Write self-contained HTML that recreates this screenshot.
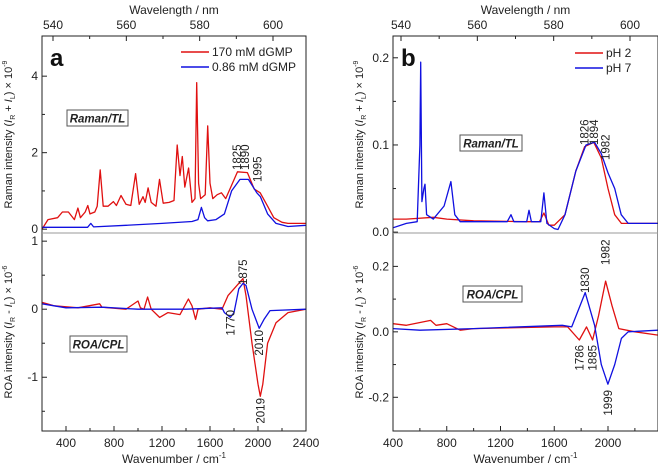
<!DOCTYPE html>
<html><head><meta charset="utf-8"><style>
body{margin:0;background:#fff}
svg{display:block;font-family:"Liberation Sans",Arial,sans-serif}
</style></head><body>
<svg id="fig" width="658" height="468" viewBox="0 0 658 468" xmlns="http://www.w3.org/2000/svg"></svg>
<script>
// ---- data arrays (x = wavenumber cm^-1, y = value) ----
const aRamanRedX=[200,250,330,370,420,470,499,520,560,582,600,640,660,685,710,750,795,820,858,900,940,980,1010,1042,1060,1084,1110,1150,1179,1210,1260,1300,1327,1350,1369,1390,1422,1450,1475,1489,1505,1522,1560,1581,1600,1623,1660,1695,1731,1780,1829,1912,1968,2018,2080,2132,2200,2250,2400];
const aRamanRedY=[0,0.25,0.3,0.45,0.45,0.25,0.55,0.3,0.45,0.62,0.4,0.45,0.6,1.55,0.6,0.6,0.72,0.62,0.88,0.65,0.62,1.45,0.65,0.85,0.7,1.08,0.7,0.6,1.3,0.68,0.7,0.75,2.2,1.4,1.9,1.1,1.6,0.7,0.8,3.83,1.2,0.8,0.9,2.7,1.2,0.8,0.9,0.95,0.8,1.15,1.5,1.48,1.05,0.95,0.6,0.3,0.18,0.15,0.15];
const aRamanBlueX=[200,500,580,607,630,900,1200,1450,1500,1528,1555,1580,1650,1720,1780,1850,1920,1990,2020,2080,2150,2250,2400];
const aRamanBlueY=[0.05,0.05,0.05,0.15,0.06,0.1,0.15,0.2,0.25,0.57,0.3,0.22,0.25,0.4,1.0,1.3,1.3,0.95,0.85,0.4,0.15,0.07,0.1];
const aRoaRedX=[200,300,500,680,700,900,1000,1020,1050,1080,1110,1180,1250,1350,1420,1450,1480,1500,1600,1700,1750,1800,1875,1900,1950,2000,2019,2040,2080,2150,2250,2400];
const aRoaRedY=[0.1,0.05,0.02,0.08,0.03,0.0,0.12,0.02,0.0,0.18,0.0,-0.12,-0.05,-0.08,0.15,0.05,-0.15,0.0,0.02,0.0,0.2,0.3,0.45,0.2,-0.5,-1.1,-1.28,-1.1,-0.5,-0.2,-0.05,0];
const aRoaBlueX=[200,400,700,1000,1400,1700,1720,1770,1800,1840,1875,1900,1950,2010,2050,2100,2400];
const aRoaBlueY=[0.08,0.02,0.03,0.0,0.0,0.02,-0.05,-0.12,-0.05,0.3,0.38,0.35,0.0,-0.28,-0.15,-0.02,0];
const bRamanRedX=[400,500,700,800,1000,1400,1490,1523,1560,1600,1680,1760,1826,1894,1950,2000,2050,2100,2372];
const bRamanRedY=[0.015,0.015,0.017,0.015,0.013,0.012,0.012,0.022,0.008,0.008,0.02,0.07,0.098,0.103,0.085,0.05,0.02,0.01,0.01];
const bRamanBlueX=[400,500,580,600,606,615,630,638,650,700,780,831,860,900,1250,1278,1300,1395,1412,1430,1500,1523,1545,1600,1628,1680,1760,1836,1900,1950,2000,2050,2098,2150,2372];
const bRamanBlueY=[0.005,0.01,0.012,0.1,0.195,0.035,0.05,0.055,0.02,0.015,0.03,0.058,0.02,0.012,0.012,0.02,0.012,0.012,0.025,0.012,0.012,0.045,0.01,0.004,0.003,0.02,0.07,0.1,0.103,0.09,0.068,0.05,0.02,0.01,0.01];
const bRoaRedX=[400,500,680,720,800,900,1000,1600,1700,1786,1840,1885,1930,1982,2030,2080,2200,2372];
const bRoaRedY=[0.025,0.02,0.035,0.02,0.025,0.005,0.01,0.015,0.015,-0.025,0.015,-0.025,0.05,0.155,0.08,0.01,0.0,-0.01];
const bRoaBlueX=[400,600,1000,1660,1730,1830,1900,1950,1999,2050,2100,2150,2372];
const bRoaBlueY=[0.01,0.005,0.01,0.02,0.015,0.12,0.02,-0.1,-0.16,-0.1,-0.02,0,0.005];
const aBottomTicks=[400,800,1200,1600,2000,2400];
const bBottomTicks=[400,800,1200,1600,2000];
const aRamanTicks=[0,2,4];const aRoaTicks=[1,0,-1];
const bRamanTicks=[0.0,0.1,0.2];const bRoaTicks=[0.2,0.0,-0.2];
const nmTicks=[540,560,580,600];

const svg=document.getElementById('fig');
const NS='http://www.w3.org/2000/svg';
function mk(tag,attrs,parent){const e=document.createElementNS(NS,tag);for(const k in attrs)e.setAttribute(k,attrs[k]);(parent||svg).appendChild(e);return e;}
function txt(s,x,y,size,extra){const t=mk('text',Object.assign({x:x,y:y,'font-size':size,fill:'#222'},extra||{}));t.textContent=s;return t;}

function panel(p){
  const sx=v=>p.x0+(v-p.xmin)*(p.x1-p.x0)/(p.xmax-p.xmin);
  const syT=v=>p.yT1-(v-p.tmin)*(p.yT1-p.yT0)/(p.tmax-p.tmin);
  const syB=v=>p.yB1-(v-p.bmin)*(p.yB1-p.yB0)/(p.bmax-p.bmin);
  const snm=nm=>p.nm540+(nm-540)*(p.nm600-p.nm540)/60;
  const cT=mk('clipPath',{id:p.id+'cT'});mk('rect',{x:p.x0,y:p.yT0,width:p.x1-p.x0,height:p.yT1-p.yT0},cT);
  const cB=mk('clipPath',{id:p.id+'cB'});mk('rect',{x:p.x0,y:p.yB0,width:p.x1-p.x0,height:p.yB1-p.yB0},cB);
  const gT=mk('g',{'clip-path':'url(#'+p.id+'cT)'});const gB=mk('g',{'clip-path':'url(#'+p.id+'cB)'});
  [[p.ramR,'#e01010',syT,gT,'raman-red'],[p.ramB,'#1010e0',syT,gT,'raman-blue'],[p.roaR,'#e01010',syB,gB,'roa-red'],[p.roaB,'#1010e0',syB,gB,'roa-blue']].forEach(([d,c,sy,gr,n])=>{
    const pts=d[0].map((x,i)=>sx(x).toFixed(1)+','+sy(d[1][i]).toFixed(1)).join(' ');
    const l=mk('polyline',{points:pts,fill:'none',stroke:c,'stroke-width':1.3,'stroke-linejoin':'round'},gr);
    
    
  });
  const fr=mk('rect',{x:p.x0,y:p.yT0,width:p.x1-p.x0,height:p.yB1-p.yT0,fill:'none',stroke:'#222','stroke-width':1});
  
  const dv=mk('line',{x1:p.x0,x2:p.x1,y1:p.yT1,y2:p.yT1,stroke:'#999','stroke-width':1});
  
  for(let v=p.xmin;v<=p.xmax+1;v+=200){const X=sx(v);const major=p.btick.includes(v);
    mk('line',{x1:X,x2:X,y1:p.yB1,y2:p.yB1-(major?5:3),stroke:'#222'});}
  p.btick.forEach(v=>{const t=txt(String(v),sx(v),p.yB1+16,12,{'text-anchor':'middle'});});
  const xt=txt('',(p.x0+p.x1)/2,p.yB1+32,12,{'text-anchor':'middle'});
  xt.innerHTML='Wavenumber / cm<tspan dy="-5" font-size="8">-1</tspan>';
  
  for(let nm=530;nm<=615;nm+=10){const X=snm(nm);if(X<p.x0||X>p.x1)continue;
    mk('line',{x1:X,x2:X,y1:p.yT0,y2:p.yT0+(nm%20==0?5:3),stroke:'#222'});}
  nmTicks.forEach(nm=>{const t=txt(String(nm),snm(nm),p.yT0-7,12,{'text-anchor':'middle'});});
  const tt=txt('Wavelength / nm',(p.x0+p.x1)/2,p.yT0-22,12,{'text-anchor':'middle'});
  
  p.ttick.forEach(v=>{const Y=syT(v);mk('line',{x1:p.x0,x2:p.x0+5,y1:Y,y2:Y,stroke:'#222'});
    const t=txt(p.fmt(v),p.x0-4,Y+4,12,{'text-anchor':'end'});});
  p.ttickMinor.forEach(v=>{const Y=syT(v);mk('line',{x1:p.x0,x2:p.x0+3,y1:Y,y2:Y,stroke:'#222'});});
  p.btick2.forEach(v=>{const Y=syB(v);mk('line',{x1:p.x0,x2:p.x0+5,y1:Y,y2:Y,stroke:'#222'});
    const t=txt(p.fmt(v),p.x0-4,Y+4,12,{'text-anchor':'end'});});
  p.btickMinor.forEach(v=>{const Y=syB(v);mk('line',{x1:p.x0,x2:p.x0+3,y1:Y,y2:Y,stroke:'#222'});});
  const yc1=(p.yT0+p.yT1)/2,yc2=(p.yB0+p.yB1)/2,tx=p.x0-30;
  const y1=txt('',tx,yc1,11,{'text-anchor':'middle',transform:'rotate(-90 '+tx+' '+yc1+')'});
  y1.innerHTML='Raman intensity (<tspan font-style="italic">I</tspan><tspan dy="3" font-size="7">R</tspan><tspan dy="-3"> + </tspan><tspan font-style="italic">I</tspan><tspan dy="3" font-size="7">L</tspan><tspan dy="-3">) × 10</tspan><tspan dy="-5" font-size="7">-9</tspan>';
  
  const y2=txt('',tx,yc2,11,{'text-anchor':'middle',transform:'rotate(-90 '+tx+' '+yc2+')'});
  y2.innerHTML='ROA intensity (<tspan font-style="italic">I</tspan><tspan dy="3" font-size="7">R</tspan><tspan dy="-3"> - </tspan><tspan font-style="italic">I</tspan><tspan dy="3" font-size="7">L</tspan><tspan dy="-3">) × 10</tspan><tspan dy="-5" font-size="7">-6</tspan>';
  
  [[p.box1,'Raman/TL'],[p.box2,'ROA/CPL']].forEach(([b,s])=>{
    const r=mk('rect',{x:b[0],y:b[1],width:b[2],height:16,fill:'#fff',stroke:'#555','stroke-width':1});
    
    const t=txt(s,b[0]+b[2]/2,b[1]+12.5,11.5,{'text-anchor':'middle','font-weight':'bold','font-style':'italic'});
    
  });
  const L=txt(p.letter,p.x0+8,p.yT0+30,24,{'font-weight':'bold',fill:'#111'});
  
  p.legend.forEach((s,i)=>{const y=p.legY+i*15;const c=i==0?'#e01010':'#1010e0';
    const l=mk('line',{x1:p.legX,x2:p.legX+28,y1:y,y2:y,stroke:c,'stroke-width':1.5});
    
    const t=txt(s,p.legX+31,y+4,12);});
  p.ann.forEach(a=>{const X=sx(a[1]);const t=txt(a[0],X+4,a[2],11.5,{'text-anchor':a[3],transform:'rotate(-90 '+(X+4)+' '+a[2]+')'});
    });
}

panel({id:'a',letter:'a',x0:42,x1:306,xmin:200,xmax:2400,yT0:36,yT1:233,tmin:-0.1,tmax:5.05,yB0:233,yB1:431,bmin:-1.79,bmax:1.12,nm540:53,nm600:273,
  ramR:[aRamanRedX,aRamanRedY],ramB:[aRamanBlueX,aRamanBlueY],roaR:[aRoaRedX,aRoaRedY],roaB:[aRoaBlueX,aRoaBlueY],
  btick:aBottomTicks,ttick:aRamanTicks,ttickMinor:[1,3],btick2:aRoaTicks,btickMinor:[0.5,-0.5,-1.5],fmt:v=>String(v),
  box1:[67,110,61],box2:[70,336,57],legend:['170 mM dGMP','0.86 mM dGMP'],legX:181,legY:52,
  ann:[['1825',1825,170,'start'],['1890',1890,170,'start'],['1995',1995,182,'start'],['1875',1875,285,'start'],['1770',1770,310,'end'],['2010',2010,330,'end'],['2019',2019,398,'end']]});
panel({id:'b',letter:'b',x0:393,x1:658,xmin:400,xmax:2372,yT0:36,yT1:233,tmin:-0.001,tmax:0.225,yB0:233,yB1:431,bmin:-0.303,bmax:0.302,nm540:401,nm600:630,
  ramR:[bRamanRedX,bRamanRedY],ramB:[bRamanBlueX,bRamanBlueY],roaR:[bRoaRedX,bRoaRedY],roaB:[bRoaBlueX,bRoaBlueY],
  btick:bBottomTicks,ttick:bRamanTicks,ttickMinor:[0.05,0.15],btick2:bRoaTicks,btickMinor:[0.1,-0.1],fmt:v=>v.toFixed(1),
  box1:[460,135,62],box2:[463,286,59],legend:['pH 2','pH 7'],legX:575,legY:53,
  ann:[['1826',1826,145,'start'],['1894',1894,145,'start'],['1982',1982,160,'start'],['1830',1830,293,'start'],['1982',1982,265,'start'],['1786',1786,345,'end'],['1885',1885,345,'end'],['1999',1999,390,'end']]});
</script>
</body></html>
